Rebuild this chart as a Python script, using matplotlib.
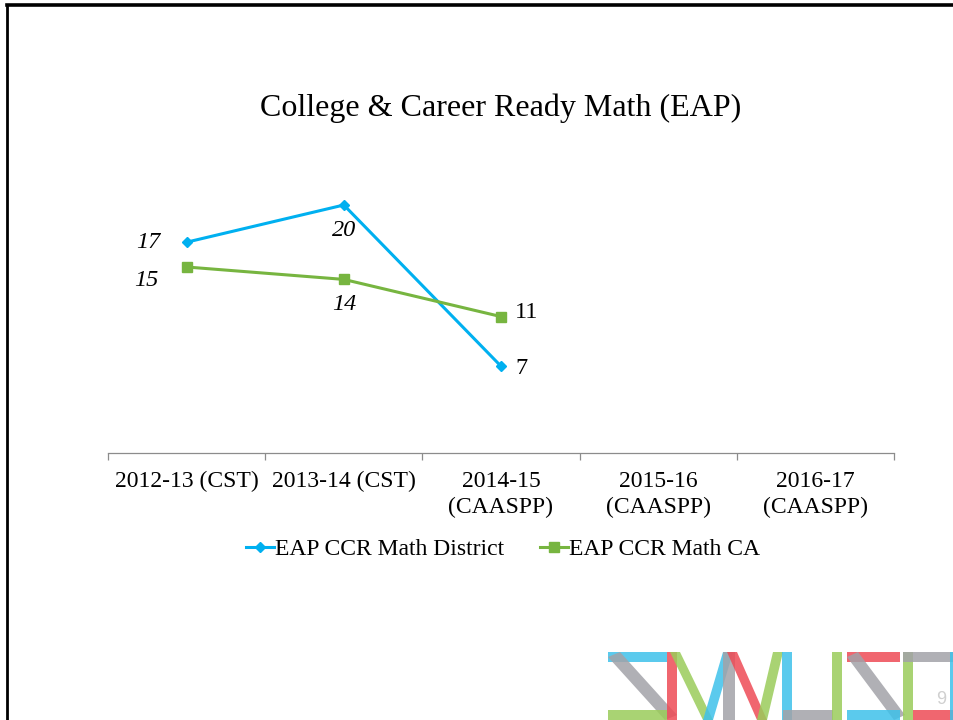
import matplotlib.pyplot as plt
from matplotlib.lines import Line2D
from matplotlib.patches import Polygon

# --- data ---
categories = ["2012-13 (CST)", "2013-14 (CST)", "2014-15\n(CAASPP)",
              "2015-16\n(CAASPP)", "2016-17\n(CAASPP)"]
district = [17, 20, 7]
state_ca = [15, 14, 11]
series_names = ["EAP CCR Math District", "EAP CCR Math CA"]

BLUE = "#00B0F0"
GREEN = "#77B540"
W, H = 954, 720
FS = 17

plt.rcParams["font.family"] = ["Liberation Serif", "DejaVu Serif"]

fig = plt.figure(figsize=(W / 100, H / 100), dpi=100)


def px(x, y):
    """pixel (from top-left) -> figure fraction"""
    return x / W, 1 - y / H


# slide border (top and left edges only are visible)
fig.add_artist(Line2D([px(7.5, 0)[0], 1], [px(0, 4.8)[1]] * 2, color="black", lw=2.6))
fig.add_artist(Line2D([px(7.5, 0)[0]] * 2, [px(0, 4.8)[1], 0], color="black", lw=2.0))

fig.text(*px(501, 108), "College & Career Ready Math (EAP)",
         ha="center", va="center", fontsize=23)

ax = fig.add_axes([108 / W, 1 - 453 / H, 786 / W, (453 - 143) / H])
x = list(range(len(categories)))
ax.plot(x[:len(district)], district, color=BLUE, lw=2.2, marker="D",
        markersize=5.5, label=series_names[0])
ax.plot(x[:len(state_ca)], state_ca, color=GREEN, lw=2.2, marker="s",
        markersize=7.5, label=series_names[1])

ax.set_xlim(-0.5, len(categories) - 0.5)
ax.set_ylim(0, 25)
for s in ["top", "right", "left"]:
    ax.spines[s].set_visible(False)
ax.spines["bottom"].set_color("#8C8C8C")
ax.spines["bottom"].set_linewidth(0.9)
ax.set_yticks([])
ax.set_xticks([i - 0.5 for i in range(len(categories) + 1)], minor=False)
ax.set_xticklabels([])
ax.tick_params(axis="x", length=5, color="#8C8C8C", width=0.9)
ax.set_xticks(x, minor=True)
ax.set_xticklabels(categories, minor=True, fontsize=FS, linespacing=1.3)
ax.tick_params(axis="x", which="minor", length=0, pad=13)

# data labels (offsets in points)
lab = dict(textcoords="offset points", fontsize=17.5)
ax.annotate(str(district[0]), (0, district[0]), xytext=(-19, 0), ha="right", va="center", style="italic", **lab)
ax.annotate(str(district[1]), (1, district[1]), xytext=(0, -18), ha="center", va="center", style="italic", **lab)
ax.annotate(str(district[2]), (2, district[2]), xytext=(10, -2), ha="left", va="center", **lab)
ax.annotate(str(state_ca[0]), (0, state_ca[0]), xytext=(-20, -9.5), ha="right", va="center", style="italic", **lab)
ax.annotate(str(state_ca[1]), (1, state_ca[1]), xytext=(0, -18), ha="center", va="center", style="italic", **lab)
ax.annotate(str(state_ca[2]), (2, state_ca[2]), xytext=(10, 3), ha="left", va="center", **lab)

fig.legend(loc="center", bbox_to_anchor=px(503, 549), ncol=2, frameon=False,
           fontsize=FS, handlelength=1.2, handletextpad=0.05,
           columnspacing=1.5)

# SMUSD logo, drawn as translucent strokes
LB, LR, LG, LY = "#3EC1EA", "#EE4B56", "#9ACC5A", "#A2A2A8"
strokes = [
    (LB, [(608, 652), (667, 652), (667, 662), (608, 662)]),
    (LY, [(608, 657), (620, 652), (677, 715), (665, 720)]),
    (LG, [(608, 710), (667, 710), (667, 720), (608, 720)]),
    (LR, [(667, 652), (677, 652), (677, 720), (667, 720)]),
    (LG, [(670, 652), (680, 652), (713, 720), (703, 720)]),
    (LB, [(703, 720), (723, 652), (733, 652), (713, 720)]),
    (LY, [(723, 652), (735, 652), (735, 720), (723, 720)]),
    (LR, [(727, 652), (737, 652), (767, 720), (757, 720)]),
    (LG, [(757, 720), (773, 652), (783, 652), (767, 720)]),
    (LB, [(782, 652), (792, 652), (792, 720), (782, 720)]),
    (LY, [(783, 710), (833, 710), (833, 720), (783, 720)]),
    (LG, [(832, 652), (842, 652), (842, 720), (832, 720)]),
    (LR, [(847, 652), (900, 652), (900, 662), (847, 662)]),
    (LY, [(847, 657), (858, 652), (905, 715), (894, 720)]),
    (LB, [(847, 710), (900, 710), (900, 720), (847, 720)]),
    (LG, [(903, 652), (913, 652), (913, 720), (903, 720)]),
    (LY, [(903, 652), (954, 652), (954, 662), (903, 662)]),
    (LR, [(913, 710), (954, 710), (954, 720), (913, 720)]),
    (LB, [(950, 652), (954, 652), (954, 720), (950, 720)]),
]
for col, pts in strokes:
    fig.add_artist(Polygon([px(a, b) for a, b in pts], closed=True,
                           facecolor=col, edgecolor="none", alpha=0.85))

fig.text(*px(941, 700), "9", ha="center", va="center", fontsize=13,
         color="#D0D0D0", family=["Liberation Sans", "DejaVu Sans"])

fig.savefig("out.png", dpi=100)
